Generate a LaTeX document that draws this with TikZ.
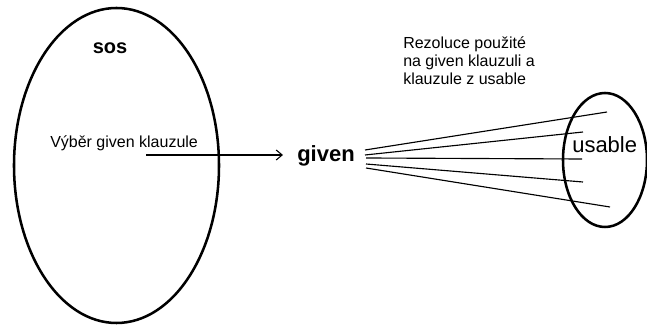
\documentclass[tikz,border=0pt]{standalone}
\usepackage{fontspec}
\setmainfont{Liberation Sans}
\usetikzlibrary{arrows.meta,shapes.geometric}
\begin{document}
\begin{tikzpicture}[x=0.75pt,y=-0.75pt,
  blob/.style={draw, line width=1.9pt, ellipse, inner sep=0pt},
  thinline/.style={line width=0.85pt},
  small/.style={font=\fontsize{12}{13.2}\selectfont, inner sep=0pt},
  big/.style={font=\fontsize{16.5}{18}\selectfont, inner sep=0pt}]
\useasboundingbox (0,0) rectangle (647,327);
% ellipses
\node[blob, minimum width=153.75pt, minimum height=236.25pt] (sosset) at (116.5,165.5) {};
\node[blob, minimum width=63pt, minimum height=100.5pt] (usableset) at (605,160) {};
% labels
\node[font=\fontsize{15}{17}\bfseries\selectfont, inner sep=0pt, anchor=base] (sos) at (110,54) {sos};
\node[small, anchor=base west] (select) at (50,148) {Výběr given klauzule};
\node[big, font=\fontsize{16.5}{18}\bfseries\selectfont, anchor=base west] (given) at (297,162) {given};
\node[big, anchor=base west] (usable) at (572,153) {usable};
\node[small, anchor=base west, align=left] (resol) at (403,85) {Rezoluce použité\\[0.6pt]na given klauzuli a\\[0.6pt]klauzule z usable};
% selection arrow
\coordinate (selstart) at (146,155);
\coordinate (selend) at (283,155);
\draw[thinline, -{Straight Barb[length=4.5pt,width=7.5pt,line width=0.8pt]}] (selstart) -- (selend);
% resolution lines
\coordinate (g1) at (365,150); \coordinate (u1) at (607,112);
\coordinate (g2) at (365,155); \coordinate (u2) at (583,132);
\coordinate (g3) at (366,158); \coordinate (u3) at (582,159);
\coordinate (g4) at (366,164); \coordinate (u4) at (583,182);
\coordinate (g5) at (366,168); \coordinate (u5) at (610,207);
\foreach \i in {1,...,5} \draw[thinline] (g\i) -- (u\i);
\end{tikzpicture}
\end{document}
